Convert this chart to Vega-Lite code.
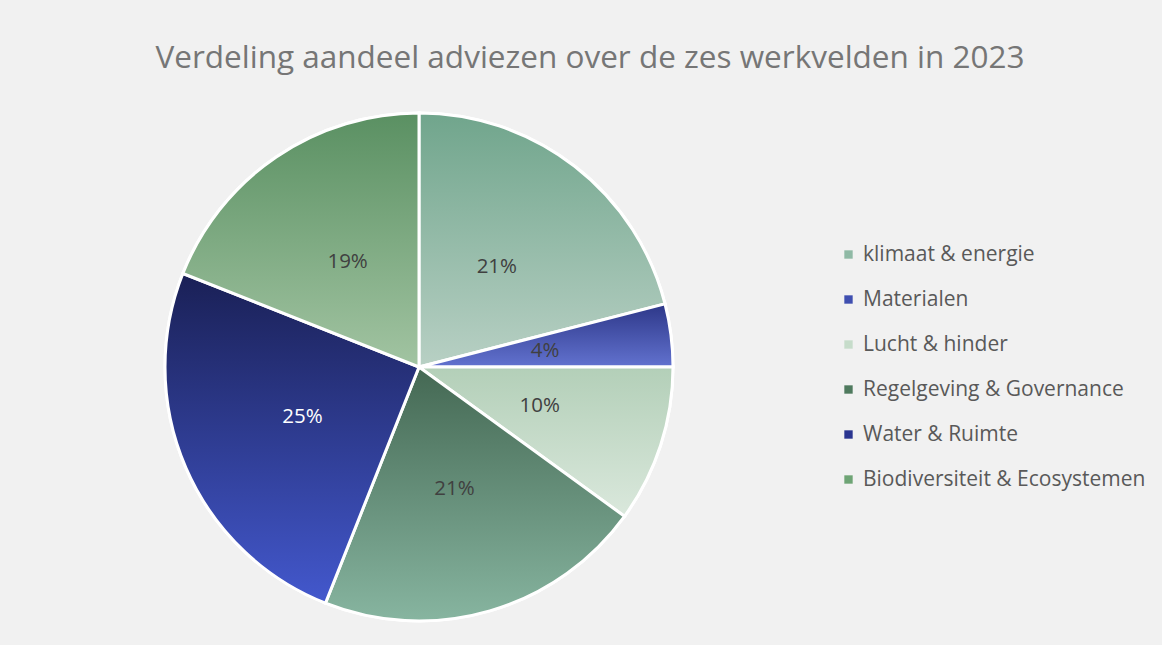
{
  "$schema": "https://vega.github.io/schema/vega-lite/v6.json",
  "width": 508,
  "height": 508,
  "autosize": {"type": "none"},
  "padding": {"left": 165, "top": 113, "right": 489, "bottom": 24},
  "background": "#f1f1f1",
  "view": {"stroke": null},
  "title": {
    "text": "Verdeling aandeel adviezen over de zes werkvelden in 2023",
    "anchor": "middle",
    "frame": "group",
    "dx": 171,
    "offset": 33,
    "font": "Open Sans",
    "fontSize": 31.5,
    "fontWeight": "normal",
    "color": "#767676"
  },
  "data": {
    "values": [
      {"category": "klimaat & energie", "value": 21, "label": "21%", "order": 1},
      {"category": "Materialen", "value": 4, "label": "4%", "order": 2},
      {"category": "Lucht & hinder", "value": 10, "label": "10%", "order": 3},
      {"category": "Regelgeving & Governance", "value": 21, "label": "21%", "order": 4},
      {"category": "Water & Ruimte", "value": 25, "label": "25%", "order": 5},
      {"category": "Biodiversiteit & Ecosystemen", "value": 19, "label": "19%", "order": 6}
    ]
  },
  "encoding": {
    "theta": {"field": "value", "type": "quantitative", "stack": true},
    "order": {"field": "order", "type": "quantitative"}
  },
  "layer": [
    {
      "mark": {"type": "arc", "outerRadius": 254, "stroke": "#ffffff", "strokeWidth": 3},
      "encoding": {
        "color": {
          "field": "category",
          "type": "nominal",
          "scale": {
            "domain": ["klimaat & energie", "Materialen", "Lucht & hinder", "Regelgeving & Governance", "Water & Ruimte", "Biodiversiteit & Ecosystemen"],
            "range": ["#8fb9a5", "#3f4fb0", "#c6dcca", "#4f7a5e", "#2a3590", "#6ea475"]
          },
          "legend": {
            "title": null,
            "orient": "none",
            "legendX": 673,
            "legendY": 131,
            "padding": 0,
            "symbolType": "square",
            "symbolSize": 70,
            "symbolStrokeWidth": 0,
            "labelFont": "Open Sans",
            "labelFontSize": 21,
            "labelColor": "#595959",
            "labelOffset": 4,
            "rowPadding": 23,
            "labelLimit": 400
          }
        }
      }
    },
    {
      "mark": {"type": "arc", "outerRadius": 254, "stroke": "#ffffff", "strokeWidth": 3},
      "encoding": {
        "detail": {"field": "category", "type": "nominal"},
        "fill": {
          "condition": [
            {"test": "datum.category === 'klimaat & energie'", "value": {"gradient": "linear", "x1": 0, "y1": 0, "x2": 0, "y2": 1, "stops": [{"offset": 0, "color": "#70a58c"}, {"offset": 1, "color": "#b8d0c4"}]}},
            {"test": "datum.category === 'Materialen'", "value": {"gradient": "linear", "x1": 0, "y1": 0, "x2": 0, "y2": 1, "stops": [{"offset": 0, "color": "#2d3788"}, {"offset": 1, "color": "#6272cf"}]}},
            {"test": "datum.category === 'Lucht & hinder'", "value": {"gradient": "linear", "x1": 0, "y1": 0, "x2": 0, "y2": 1, "stops": [{"offset": 0, "color": "#b3cfb8"}, {"offset": 1, "color": "#dae8dc"}]}},
            {"test": "datum.category === 'Regelgeving & Governance'", "value": {"gradient": "linear", "x1": 0, "y1": 0, "x2": 0, "y2": 1, "stops": [{"offset": 0, "color": "#446853"}, {"offset": 1, "color": "#87b5a0"}]}},
            {"test": "datum.category === 'Water & Ruimte'", "value": {"gradient": "linear", "x1": 0, "y1": 0, "x2": 0, "y2": 1, "stops": [{"offset": 0, "color": "#1a2056"}, {"offset": 1, "color": "#4358cd"}]}},
            {"test": "datum.category === 'Biodiversiteit & Ecosystemen'", "value": {"gradient": "linear", "x1": 0, "y1": 0, "x2": 0, "y2": 1, "stops": [{"offset": 0, "color": "#5a9062"}, {"offset": 1, "color": "#a2c4a2"}]}}
          ],
          "value": "#cccccc"
        }
      }
    },
    {
      "mark": {"type": "text", "radius": 127, "font": "Open Sans", "fontSize": 20.5},
      "encoding": {
        "detail": {"field": "category", "type": "nominal"},
        "text": {"field": "label", "type": "nominal"},
        "color": {
          "condition": {"test": "datum.category === 'Water & Ruimte'", "value": "#ffffff"},
          "value": "#404040"
        }
      }
    }
  ]
}
